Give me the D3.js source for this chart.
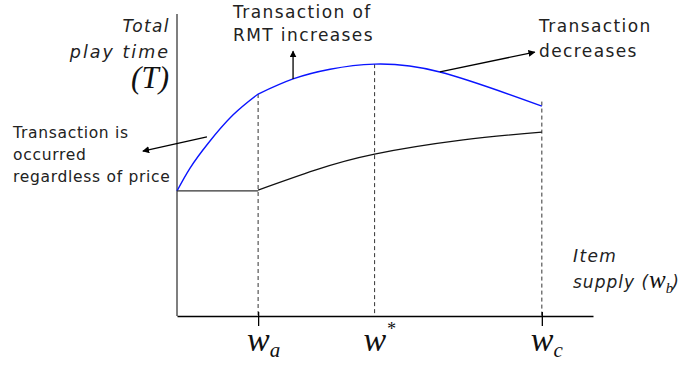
<!DOCTYPE html>
<html>
<head>
<meta charset="utf-8">
<script src="https://cdn.jsdelivr.net/npm/d3@7"></script>
<style>
  body { margin: 0; background: #fff; }
  text { font-family: "DejaVu Sans", sans-serif; fill: #222; }
  .math { font-family: "Liberation Serif", serif; font-style: italic; fill: #111; letter-spacing: 0; }
</style>
</head>
<body>
<div id="chart"></div>
<script>
// values (axis units 0..10 on both axes)
var tickX = [1.95, 4.75, 8.77];
var tickSub = ["a", "", "c"];
var tickSup = ["", "*", ""];

// blue curve: steep rise up to w_a, then arc over w* down to w_c
var riseX = [0, 0.31, 0.75, 1.35, 1.95];
var riseY = [4.14, 4.89, 5.72, 6.66, 7.35];
var arcX = [1.95, 2.79, 3.68, 4.75, 6.32, 8.77];
var arcY = [7.35, 7.85, 8.17, 8.34, 8.08, 6.95];

// black curve: flat up to w_a, then slowly rising
var flatX = [0, 1.95];
var flatY = [4.14, 4.14];
var lowX = [1.95, 3.32, 4.75, 6.88, 8.77];
var lowY = [4.17, 4.83, 5.36, 5.83, 6.09];

// tops of the dashed guide lines
var guideTop = [7.35, 8.34, 7.1];

var width = 697, height = 368;

var svg = d3.select("#chart")
  .append("svg")
  .attr("width", width)
  .attr("height", height);

var x = d3.scaleLinear().domain([0, 10]).range([177, 593]);
var y = d3.scaleLinear().domain([0, 10]).range([316, 14]);

var zip = function(xs, ys) { return xs.map(function(v, i) { return [v, ys[i]]; }); };

var line = d3.line()
  .x(function(d) { return x(d[0]); })
  .y(function(d) { return y(d[1]); });

// arrow head
svg.append("defs").append("marker")
  .attr("id", "arr")
  .attr("viewBox", "0 0 10 10")
  .attr("refX", 9).attr("refY", 5)
  .attr("markerWidth", 7).attr("markerHeight", 7)
  .attr("markerUnits", "userSpaceOnUse")
  .attr("orient", "auto")
  .append("path")
  .attr("d", "M0,0 L10,5 L0,10 z")
  .attr("fill", "#000");

// dashed guides
svg.selectAll(".guide")
  .data(tickX)
  .join("line")
  .attr("class", "guide")
  .attr("x1", function(d) { return x(d); })
  .attr("x2", function(d) { return x(d); })
  .attr("y1", function(d, i) { return y(guideTop[i]); })
  .attr("y2", y(0))
  .attr("stroke", "#333")
  .attr("stroke-width", 1)
  .attr("stroke-dasharray", "4,3");

// y axis
svg.append("line")
  .attr("x1", x(0)).attr("x2", x(0))
  .attr("y1", y(10)).attr("y2", y(0))
  .attr("stroke", "#555").attr("stroke-width", 1.5);

// x axis with ticks at w_a and w_c
var xAxis = svg.append("g")
  .attr("transform", "translate(0," + y(0) + ")")
  .call(d3.axisBottom(x)
    .tickValues([tickX[0], tickX[2]])
    .tickSize(10)
    .tickSizeOuter(0)
    .tickFormat(""));
xAxis.select(".domain").attr("stroke", "#000").attr("stroke-width", 1.5);
xAxis.selectAll(".tick line").attr("stroke", "#000").attr("stroke-width", 1.3).attr("y1", -4);

// curves
svg.append("path")
  .attr("d", line.curve(d3.curveNatural)(zip(riseX, riseY)))
  .attr("fill", "none").attr("stroke", "#0a14ff").attr("stroke-width", 1.4);
svg.append("path")
  .attr("d", line.curve(d3.curveNatural)(zip(arcX, arcY)))
  .attr("fill", "none").attr("stroke", "#0a14ff").attr("stroke-width", 1.4);
svg.append("path")
  .attr("d", line.curve(d3.curveLinear)(zip(flatX, flatY)))
  .attr("fill", "none").attr("stroke", "#333").attr("stroke-width", 1.2);
svg.append("path")
  .attr("d", line.curve(d3.curveNatural)(zip(lowX, lowY)))
  .attr("fill", "none").attr("stroke", "#111").attr("stroke-width", 1.2);

// annotation arrows
function arrow(x1, y1, x2, y2) {
  svg.append("line")
    .attr("x1", x(x1)).attr("y1", y(y1))
    .attr("x2", x(x2)).attr("y2", y(y2))
    .attr("stroke", "#000").attr("stroke-width", 1.3)
    .attr("marker-end", "url(#arr)");
}
arrow(2.79, 7.85, 2.79, 8.77);
arrow(6.32, 8.08, 8.6, 8.74);
arrow(0.72, 5.93, -0.82, 5.46);

// text labels
function lines(x0, y0, dy, anchor, rows, size, ls, italic) {
  var t = svg.append("text")
    .attr("text-anchor", anchor)
    .attr("font-size", size)
    .attr("letter-spacing", ls)
    .attr("font-style", italic ? "italic" : "normal");
  rows.forEach(function(r, i) {
    t.append("tspan").attr("x", x0).attr("y", y0 + i * dy).text(r);
  });
  return t;
}
lines(233, 18, 23, "start", ["Transaction of", "RMT increases"], 17, 1.4);
lines(539, 32, 25, "start", ["Transaction", "decreases"], 17, 1.4);
lines(13, 138, 22, "start", ["Transaction is", "occurred", "regardless of price"], 15.5, 0.7);
lines(170, 32, 26, "end", ["Total"], 17, 1.4, true);
lines(170, 58, 0, "end", ["play time"], 17.5, 2, true);

svg.append("text").attr("class", "math")
  .attr("x", 169).attr("y", 88)
  .attr("text-anchor", "end")
  .attr("font-size", 31)
  .text("(T)");

lines(573, 262, 0, "start", ["Item"], 17, 1.4, true);
var sup = svg.append("text")
  .attr("x", 573).attr("y", 288)
  .attr("font-size", 17).attr("letter-spacing", 1).attr("font-style", "italic");
sup.append("tspan").text("supply (");
sup.append("tspan").attr("class", "math").attr("font-size", 25).attr("font-style", "italic").text("w");
sup.append("tspan").attr("class", "math").attr("font-size", 15).attr("dy", 5).text("b");
sup.append("tspan").attr("dy", -5).attr("dx", -1).text(")");

// tick labels
var tl = svg.selectAll(".tl")
  .data(tickX)
  .join("text")
  .attr("class", "math tl")
  .attr("x", function(d) { return x(d) - 11; })
  .attr("y", 351)
  .attr("font-size", 34);
tl.append("tspan").text("w");
tl.append("tspan")
  .attr("font-size", function(d, i) { return tickSub[i] ? 21 : 18; })
  .attr("dy", function(d, i) { return tickSub[i] ? 6 : -16; })
  .text(function(d, i) { return tickSub[i] || tickSup[i]; });
</script>
</body>
</html>
